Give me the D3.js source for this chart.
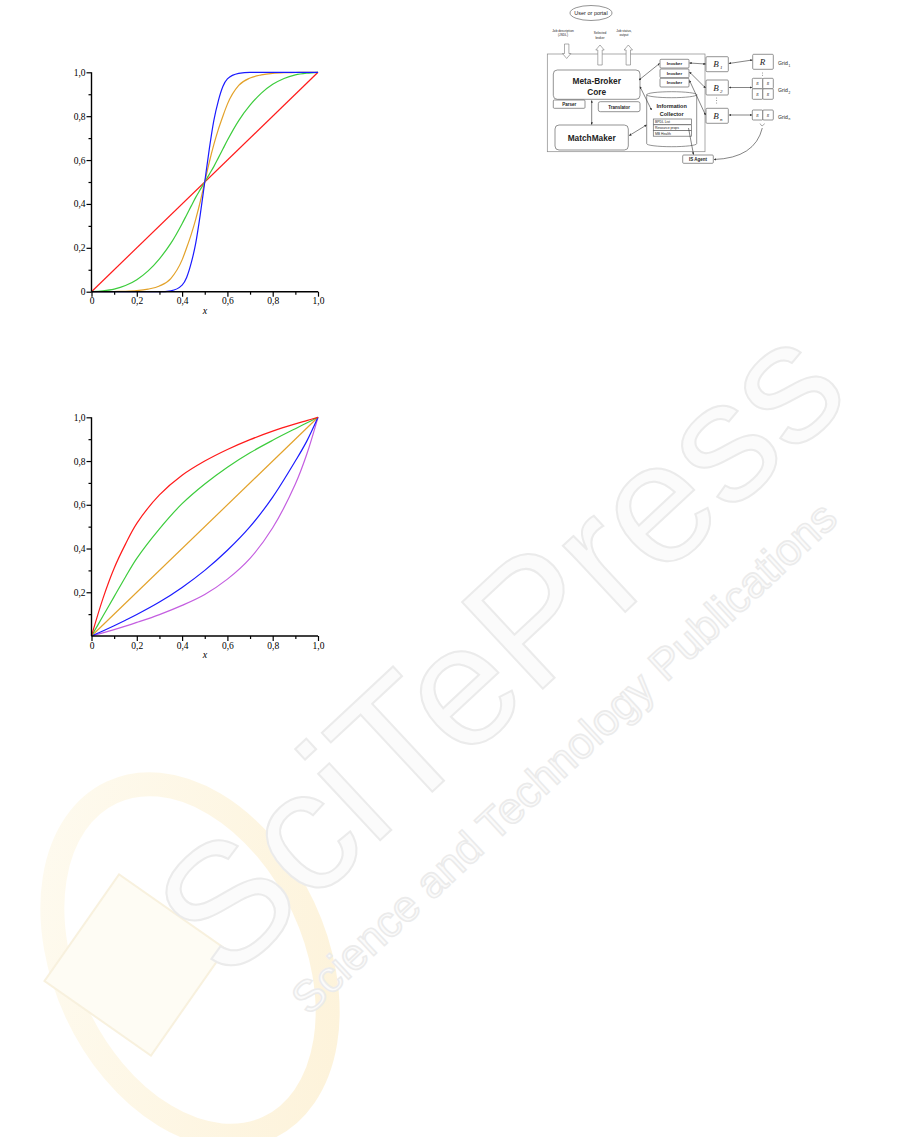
<!DOCTYPE html>
<html><head><meta charset="utf-8">
<script src="https://cdn.jsdelivr.net/npm/d3@7"></script>
<style>body{margin:0;background:#fff}svg{display:block}</style>
</head><body>
<svg id="c" width="901" height="1137"></svg>
<script>
// ---------- data ----------
const xTicks = [0, 0.2, 0.4, 0.6, 0.8, 1.0];
const xTickLabels = ["0", "0,2", "0,4", "0,6", "0,8", "1,0"];
const minorTicks = [0.1, 0.3, 0.5, 0.7, 0.9];
const yTicksTop = [0, 0.2, 0.4, 0.6, 0.8, 1.0];
const yTickLabelsTop = ["0", "0,2", "0,4", "0,6", "0,8", "1,0"];
const yTicksBottom = [0.2, 0.4, 0.6, 0.8, 1.0];
const yTickLabelsBottom = ["0,2", "0,4", "0,6", "0,8", "1,0"];

// top chart (S-curves)
const topX      = [0,0.05,0.1,0.15,0.2,0.25,0.3,0.35,0.4,0.42,0.44,0.46,0.48,0.5,0.52,0.54,0.56,0.58,0.6,0.65,0.7,0.75,0.8,0.85,0.9,0.95,1];
const topGreen  = [0,0.004,0.012,0.028,0.055,0.095,0.15,0.22,0.31,0.35,0.39,0.43,0.465,0.5,0.535,0.57,0.61,0.65,0.69,0.78,0.85,0.905,0.945,0.972,0.988,0.996,1];
const topOrange = [0,0,0.001,0.002,0.005,0.012,0.026,0.06,0.145,0.2,0.26,0.33,0.41,0.5,0.59,0.67,0.74,0.8,0.855,0.94,0.974,0.988,0.995,0.998,0.999,1,1];
const topBlue   = [0,0,0,0,0,0,0,0.004,0.03,0.065,0.13,0.22,0.35,0.5,0.65,0.78,0.87,0.935,0.97,0.995,1,1,1,1,1,1,1];
const topRedX   = [0, 1];
const topRed    = [0, 1];

// bottom chart (concave / convex curves)
const botX      = [0,0.05,0.1,0.15,0.2,0.3,0.4,0.5,0.6,0.7,0.8,0.9,0.95,1];
const botRed    = [0,0.17,0.31,0.42,0.515,0.645,0.735,0.8,0.853,0.898,0.937,0.97,0.985,1];
const botGreen  = [0,0.09,0.18,0.27,0.355,0.49,0.605,0.695,0.772,0.838,0.895,0.948,0.974,1];
const botBlue   = [0,0.023,0.047,0.072,0.098,0.155,0.222,0.3,0.392,0.5,0.635,0.8,0.89,1];
const botPurple = [0,0.014,0.029,0.045,0.062,0.098,0.14,0.19,0.26,0.355,0.495,0.695,0.83,1];
const botOrangeX = [0, 1];
const botOrange  = [0, 1];

const cRed = "#ff1a1a", cGreen = "#3ccc3c", cOrange = "#e3a22a", cBlue = "#1a1aff", cPurple = "#c45ee0";

const svg = d3.select("#c");
svg.append("rect").attr("width", 901).attr("height", 1137).attr("fill", "#fff");
const defs = svg.append("defs");

// ---------- watermark ----------
const wm = svg.append("g");
const lg = defs.append("linearGradient").attr("id", "yel").attr("x1", 0).attr("y1", 0).attr("x2", 1).attr("y2", 1);
lg.append("stop").attr("offset", 0).attr("stop-color", "#fefbf1");
lg.append("stop").attr("offset", 1).attr("stop-color", "#fdf2d8");
wm.append("ellipse").attr("cx", 190).attr("cy", 960).attr("rx", 125).attr("ry", 185)
  .attr("transform", "rotate(-25,190,960)").attr("fill", "none").attr("stroke", "url(#yel)").attr("stroke-width", 24);
wm.append("rect").attr("x", 70).attr("y", 900).attr("width", 130).attr("height", 130)
  .attr("transform", "rotate(35,135,965)").attr("fill", "#fefcf4").attr("stroke", "#f8f1de").attr("stroke-width", 2);
const wt = wm.append("g").attr("transform", "translate(225,985) rotate(-43)");
wt.append("text").text("SciTePress").attr("x", 0).attr("y", 0)
  .attr("font-family", "Liberation Sans, Arial, sans-serif").attr("font-size", 172)
  .attr("fill", "#fbfbfb").attr("stroke", "#ebebeb").attr("stroke-width", 2);
wt.append("text").text("Science and Technology Publications").attr("x", 40).attr("y", 80)
  .attr("font-family", "Liberation Sans, Arial, sans-serif").attr("font-size", 44)
  .attr("fill", "#fbfbfb").attr("stroke", "#ebebeb").attr("stroke-width", 1.6);

// ---------- charts ----------
function drawChart(cfg) {
  const g = svg.append("g");
  const x = d3.scaleLinear().domain([0, 1]).range([91.5, 318]);
  const y = d3.scaleLinear().domain([0, 1]).range([cfg.y0, cfg.y1]);
  const font = "Liberation Serif, Times New Roman, serif";

  const line = d3.line().x(d => x(d[0])).y(d => y(d[1])).curve(cfg.curve);
  cfg.series.forEach(s => {
    g.append("path").datum(s.xs.map((v, i) => [v, s.ys[i]]))
      .attr("d", line).attr("fill", "none").attr("stroke", s.color).attr("stroke-width", 1.2);
  });

  const xMinor = g.append("g").attr("transform", `translate(0,${cfg.y0})`)
    .call(d3.axisBottom(x).tickValues(minorTicks).tickSize(3).tickFormat(""));
  const yMinor = g.append("g").attr("transform", "translate(91.5,0)")
    .call(d3.axisLeft(y).tickValues(minorTicks).tickSize(3).tickFormat(""));
  [xMinor, yMinor].forEach(a => { a.select(".domain").remove(); a.selectAll("line").attr("stroke", "#000").attr("stroke-width", 1.2); });

  const xa = g.append("g").attr("transform", `translate(0,${cfg.y0})`)
    .call(d3.axisBottom(x).tickValues(xTicks).tickSize(5).tickSizeOuter(0).tickPadding(1)
      .tickFormat((d, i) => xTickLabels[i]));
  const ya = g.append("g").attr("transform", "translate(91.5,0)")
    .call(d3.axisLeft(y).tickValues(cfg.yTicks).tickSize(5).tickSizeOuter(0).tickPadding(1)
      .tickFormat((d, i) => cfg.yLabels[i]));
  [xa, ya].forEach(a => {
    a.select(".domain").attr("stroke", "#000").attr("stroke-width", 1.4);
    a.selectAll("line").attr("stroke", "#000").attr("stroke-width", 1.2);
    a.selectAll("text").attr("font-family", font).attr("font-size", 9.5).attr("fill", "#000");
  });
  ya.select(".domain").attr("d", `M0,${cfg.y0}V${cfg.y1}`);
  xa.select(".domain").attr("d", `M91.5,0H318`);

  g.append("text").text("x").attr("x", 205).attr("y", cfg.y0 + 22)
    .attr("text-anchor", "middle").attr("font-family", font).attr("font-style", "italic")
    .attr("font-size", 10);
}

drawChart({
  y0: 291.7, y1: 72.3, yTicks: yTicksTop, yLabels: yTickLabelsTop, curve: d3.curveMonotoneX,
  series: [
    { xs: topRedX, ys: topRed, color: cRed },
    { xs: topX, ys: topGreen, color: cGreen },
    { xs: topX, ys: topOrange, color: cOrange },
    { xs: topX, ys: topBlue, color: cBlue }
  ]
});
drawChart({
  y0: 636, y1: 417.3, yTicks: yTicksBottom, yLabels: yTickLabelsBottom, curve: d3.curveCatmullRom.alpha(0.5),
  series: [
    { xs: botOrangeX, ys: botOrange, color: cOrange },
    { xs: botX, ys: botPurple, color: cPurple },
    { xs: botX, ys: botBlue, color: cBlue },
    { xs: botX, ys: botGreen, color: cGreen },
    { xs: botX, ys: botRed, color: cRed }
  ]
});

// ---------- architecture diagram ----------
const dg = svg.append("g").attr("font-family", "Liberation Sans, Arial, sans-serif").attr("fill", "#222");
const stroke = "#666";
const mk = defs.append("marker").attr("id", "ah").attr("viewBox", "0 0 10 10").attr("refX", 9).attr("refY", 5)
  .attr("markerWidth", 4).attr("markerHeight", 4).attr("orient", "auto-start-reverse");
mk.append("path").attr("d", "M0,0L10,5L0,10z").attr("fill", "#333");

function box(x0, y0, w, h, rx) {
  dg.append("rect").attr("x", x0).attr("y", y0).attr("width", w).attr("height", h).attr("rx", rx || 0)
    .attr("fill", "#fff").attr("stroke", stroke).attr("stroke-width", 0.7);
}
function txt(s, x0, y0, size, bold, anchor, style) {
  return dg.append("text").text(s).attr("x", x0).attr("y", y0).attr("font-size", size)
    .attr("font-weight", bold ? "bold" : "normal").attr("text-anchor", anchor || "middle")
    .attr("font-style", style || "normal").attr("fill", "#222");
}
function arrow(x1, y1, x2, y2, both) {
  const l = dg.append("line").attr("x1", x1).attr("y1", y1).attr("x2", x2).attr("y2", y2)
    .attr("stroke", "#333").attr("stroke-width", 0.6).attr("marker-end", "url(#ah)");
  if (both) l.attr("marker-start", "url(#ah)");
}

dg.append("ellipse").attr("cx", 591).attr("cy", 13).attr("rx", 21).attr("ry", 7.5)
  .attr("fill", "#fff").attr("stroke", stroke).attr("stroke-width", 0.7);
txt("User or portal", 591, 15, 5.5);
txt("Job description", 563, 31.5, 3.2); txt("(JSDL)", 563, 36, 3.2);
txt("Selected", 600, 34, 3.2); txt("broker", 600, 38.5, 3.2);
txt("Job status,", 624, 31.5, 3.2); txt("output", 624, 36, 3.2);

dg.append("rect").attr("x", 547.3).attr("y", 54).attr("width", 157.7).attr("height", 97.7)
  .attr("fill", "none").attr("stroke", "#888").attr("stroke-width", 0.7);

function hollow(cx, top, bot, up) {
  const hw = 4.2, sw = 2.2, hh = 5;
  let p;
  if (up) p = [[cx, top], [cx + hw, top + hh], [cx + sw, top + hh], [cx + sw, bot], [cx - sw, bot], [cx - sw, top + hh], [cx - hw, top + hh]];
  else p = [[cx, bot], [cx + hw, bot - hh], [cx + sw, bot - hh], [cx + sw, top], [cx - sw, top], [cx - sw, bot - hh], [cx - hw, bot - hh]];
  dg.append("polygon").attr("points", p.map(q => q.join(",")).join(" ")).attr("fill", "#fff").attr("stroke", "#777").attr("stroke-width", 0.6);
}
hollow(566.7, 44, 58.5, false);
hollow(600, 45, 65, true);
hollow(628.3, 45, 65, true);

box(553.3, 70, 86.7, 29.3, 4);
txt("Meta-Broker", 596.7, 84, 8.3, true); txt("Core", 596.7, 94.5, 8.3, true);
box(553.3, 100, 31.7, 8.3, 1);
txt("Parser", 569.2, 106.2, 4.5, true);
box(598.3, 101.7, 41.7, 10, 2);
txt("Translator", 619.2, 108.5, 4.5, true);
box(555, 125, 73.3, 25, 4);
txt("MatchMaker", 591.7, 140.5, 8.3, true);

[59.3, 69, 78.3].forEach(yy => { box(660, yy, 29, 8.7, 1); txt("Invoker", 674.5, yy + 6, 4.3, true); });

dg.append("path").attr("d", "M646.7,94.7 L646.7,143.7 A25,3 0 0 0 696.7,143.7 L696.7,94.7 A25,3 0 0 0 646.7,94.7 Z")
  .attr("fill", "#fff").attr("stroke", stroke).attr("stroke-width", 0.7);
dg.append("path").attr("d", "M646.7,94.7 A25,3 0 0 0 696.7,94.7").attr("fill", "none").attr("stroke", stroke).attr("stroke-width", 0.7);
txt("Information", 671.7, 108, 5.5, true); txt("Collector", 671.7, 115.5, 5.5, true);
[["BPDL List", 119], ["Resource props", 124.8], ["MB Health", 130.6]].forEach(([s, yy]) => {
  box(653.3, yy, 38.3, 5.6, 0); txt(s, 655, yy + 4.3, 3.4, false, "start");
});

box(682.7, 155, 30.6, 8.3, 1);
txt("IS Agent", 698, 161, 4.5, true);

[[56.7, "1"], [80, "2"], [108.3, "n"]].forEach(([yy, s]) => {
  box(706, yy, 22.3, 15, 1);
  txt("B", 716, yy + 10.5, 9, false, "middle", "italic").attr("font-family", "Liberation Serif, serif");
  txt(s, 720, yy + 12.5, 5, false, "start", "italic").attr("font-family", "Liberation Serif, serif");
});
box(752.7, 54.3, 20.6, 15, 1);
txt("R", 762.5, 65, 9, false, "middle", "italic").attr("font-family", "Liberation Serif, serif");
[[752.3, 78.3], [762.8, 78.3], [752.3, 88.8], [762.8, 88.8]].forEach(([xx, yy]) => {
  box(xx, yy, 10.5, 10.5, 1); txt("R", xx + 5.2, yy + 7, 3.8, false, "middle", "italic").attr("font-family", "Liberation Serif, serif");
});
[[752.3, 110], [762.8, 110]].forEach(([xx, yy]) => {
  box(xx, yy, 10.5, 10, 1); txt("R", xx + 5.2, yy + 6.8, 3.8, false, "middle", "italic").attr("font-family", "Liberation Serif, serif");
});
[["1", 65], ["2", 92], ["n", 118.5]].forEach(([s, yy]) => {
  txt("Grid", 778, yy, 5.2, false, "start");
  txt(s, 788.5, yy + 1.5, 3.2, false, "start");
});
[[762.5, 73], [762.5, 75.3], [716.7, 98], [716.7, 100.5], [716.7, 103]].forEach(([xx, yy]) =>
  dg.append("circle").attr("cx", xx).attr("cy", yy).attr("r", 0.45).attr("fill", "#333"));

arrow(639, 80, 659.5, 63.5, true);
arrow(640, 86.7, 651.5, 110, true);
arrow(629.3, 135.5, 646.5, 125, true);
arrow(591.7, 100.5, 591.7, 124.5, true);
arrow(689.5, 63, 705.5, 64, true);
arrow(689.5, 72, 705.5, 88, true);
arrow(689.5, 80.5, 705.5, 115, true);
arrow(728.8, 63.5, 752.3, 60, true);
arrow(729, 87.5, 752, 87.5, true);
arrow(729, 115, 752, 115, true);
arrow(688.5, 128, 693.5, 154.5, false);
dg.append("path").attr("d", "M760,123.5 Q762,128 764.5,123.5").attr("fill", "none").attr("stroke", "#555").attr("stroke-width", 0.5);
dg.append("path").attr("d", "M762.3,128 Q755,158 714,159.5").attr("fill", "none").attr("stroke", "#333").attr("stroke-width", 0.6).attr("marker-end", "url(#ah)");
</script>
</body></html>
